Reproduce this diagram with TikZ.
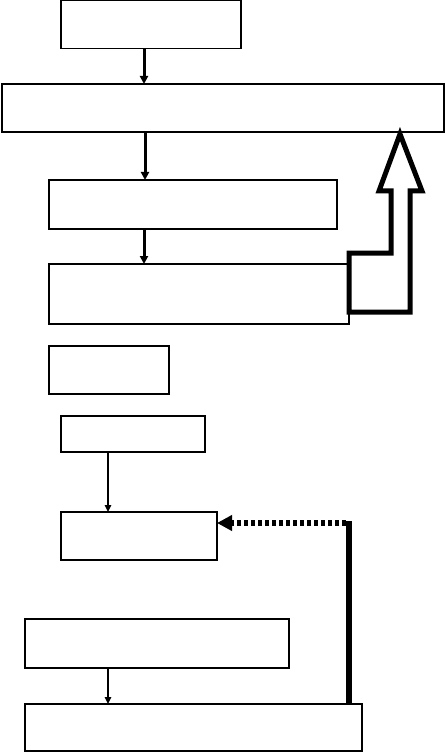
\documentclass[tikz,border=0pt]{standalone}
\usetikzlibrary{arrows.meta}
\def\PX{0.75pt}
\tikzset{
  box/.style={draw=black, line width=1.4*\PX, inner sep=0pt, outer sep=0pt, fill=white},
  thickarr/.style={line width=3*\PX, -{Triangle[length=8*\PX,width=8*\PX]}},
  thinarr/.style={line width=1.3*\PX, -{Triangle[length=7*\PX,width=6.5*\PX]}},
  hollowarrow/.style={line width=5*\PX, line join=miter, draw=black, fill=white},
  dotarr/.style={line width=5.5*\PX, dash pattern=on 4*\PX off 3*\PX, -{Triangle[length=15*\PX,width=15*\PX]}},
  solidbar/.style={line width=6*\PX}
}
\newcommand{\pxbox}[5]{\node[box, minimum width=#4*\PX, minimum height=#5*\PX] (#1) at (#2,#3) {};}
\begin{document}
\begin{tikzpicture}[x=0.75pt, y=-0.75pt]
\useasboundingbox (0,0) rectangle (445,752);
\fill[white] (0,0) rectangle (445,752);
% boxes
\pxbox{b1}{151}{24.5}{180}{48}
\pxbox{b2}{223}{108}{442}{48}
\pxbox{b3}{193}{204.5}{288}{49}
\pxbox{b4}{199}{294}{300}{60}
\pxbox{b5}{109}{370}{120}{48}
\pxbox{b6}{133}{434}{144}{36}
\pxbox{b7}{139}{536}{156}{48}
\pxbox{b8}{157}{643.5}{264}{49}
\pxbox{b9}{193.5}{727.5}{337}{47}
% thick arrows
\coordinate (s1) at ([xshift=-7*\PX]b1.south);
\draw[thickarr] (s1) -- (s1 |- b2.north);
\coordinate (s2) at ([xshift=-78*\PX]b2.south);
\draw[thickarr] (s2) -- (s2 |- b3.north);
\coordinate (s3) at ([xshift=-49*\PX]b3.south);
\draw[thickarr] (s3) -- (s3 |- b4.north);
% thin arrows
\coordinate (s6) at ([xshift=-25*\PX]b6.south);
\draw[thinarr] (s6) -- (s6 |- b7.north);
\coordinate (s8) at ([xshift=-49*\PX]b8.south);
\draw[thinarr] (s8) -- (s8 |- b9.north);
% big hollow arrow
\draw[hollowarrow] (400,134) -- (422,191) -- (410,191) -- (410,312) -- (349,312)
  -- (349,253) -- (391,253) -- (391,191) -- (379,191) -- cycle;
% feedback: solid bar up, dotted arrow left
\coordinate (corner) at (349,523);
\draw[solidbar] (b9.north -| corner) -- ([yshift=2.5*\PX]corner);
\draw[dotarr] ([xshift=-3*\PX]corner) -- (b7.east |- corner);
\end{tikzpicture}
\end{document}
